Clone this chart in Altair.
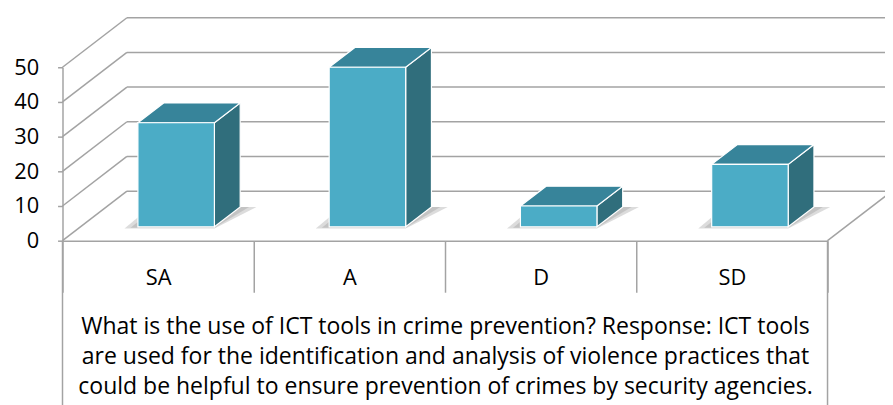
import altair as alt
import pandas as pd

# ---------------- data ----------------
categories = ["SA", "A", "D", "SD"]
values = [30, 46, 6, 18]
y_ticks = [0, 10, 20, 30, 40, 50]
x_title = [
    "What is the use of ICT tools in crime prevention? Response: ICT tools",
    "are used for the identification and analysis of violence practices that",
    "could be helpful to ensure prevention of crimes by security agencies.",
]

# ---------------- style / 3-D projection ----------------
FONT = "Open Sans"
GRID_C = "#a3a3a3"
FRONT_C = "#4bacc6"
TOP_C = "#37849a"
SIDE_C = "#306e7c"
DX = 65 / 193          # depth shift along x (category units)
DY = 50 / 3.5          # depth shift along y (value units)
F1, F2 = 0.28, 0.68    # bar depth (fraction of the floor depth)
BAR_W = 0.4
N = len(categories)
X_END = N + 0.6

bars = pd.DataFrame({"category": categories, "value": values, "idx": list(range(N))})
grid = pd.DataFrame({"tick": y_ticks})
edges = pd.DataFrame({"edge": [0, N]})

xlin = alt.Scale(domain=[0, N], nice=False, zero=False)
ysc = alt.Scale(domain=[0, 50], nice=False)
yaxis = alt.Axis(
    values=y_ticks, title=None, grid=False,
    labelFont=FONT, labelFontSize=22, labelColor="#000000", labelPadding=19,
    tickSize=5, tickColor=GRID_C, tickWidth=1.5,
    domainColor=GRID_C, domainWidth=1.5,
)


def Y(field):
    return alt.Y(field, scale=ysc, axis=yaxis)


XL = f"(datum.idx + {(1 - BAR_W) / 2} + {F1 * DX})"
XR = f"({XL} + {BAR_W})"
Y0 = f"{F1 * DY}"
T = f"(datum.value + {F1 * DY})"
DD = f"{(F2 - F1) * DX}"
DH = f"{(F2 - F1) * DY}"

rule = dict(color=GRID_C, strokeWidth=1.5)

# axes layer (band scale for the category axis, value axis)
axes = alt.Chart(bars).mark_point(opacity=0).encode(
    x=alt.X(
        "category:N", sort=categories,
        scale=alt.Scale(paddingInner=0, paddingOuter=0),
        axis=alt.Axis(
            title=x_title, titleFont=FONT, titleFontSize=23.2, titleFontWeight="normal",
            titleColor="#000000", titleLineHeight=30, titlePadding=23,
            labelFont=FONT, labelFontSize=22, labelColor="#000000", labelAngle=0,
            labelBaseline="middle", labelPadding=-15,
            tickBand="extent", tickSize=52, tickColor=GRID_C, tickWidth=1.5,
            domainColor=GRID_C, domainWidth=1.5, grid=False,
        ),
    ),
    y=Y("value:Q"),
)

# side-wall diagonals
diag = alt.Chart(grid).transform_calculate(
    x0="0", x1=str(DX), y1=f"datum.tick + {DY}"
).mark_rule(**rule).encode(
    x=alt.X("x0:Q", scale=xlin, axis=None), x2="x1:Q",
    y=Y("tick:Q"), y2="y1:Q",
)

# back-wall horizontals
back = alt.Chart(grid).transform_calculate(
    x0=str(DX), x1=str(X_END), yb=f"datum.tick + {DY}"
).mark_rule(**rule).encode(
    x=alt.X("x0:Q", scale=xlin, axis=None), x2="x1:Q",
    y=Y("yb:Q"),
)

# right floor edge
floor_r = alt.Chart(grid).transform_filter("datum.tick == 0").transform_calculate(
    x0=str(N), x1=str(N + DX), y1=str(DY)
).mark_rule(**rule).encode(
    x=alt.X("x0:Q", scale=xlin, axis=None), x2="x1:Q",
    y=Y("tick:Q"), y2="y1:Q",
)

# outer table borders (full height)
borders = alt.Chart(edges).transform_calculate(
    yb="-60", yt="0"
).mark_rule(**rule).encode(
    x=alt.X("edge:Q", scale=xlin, axis=None),
    y=Y("yt:Q"), y2="yb:Q",
)

# soft floor shadows under the bars (two stacked, translucent)
shadow = alt.Chart(bars).transform_calculate(
    k="[0, 1, 2, 3]", s="[1.0, 0.55]"
).transform_flatten(["k"]).transform_flatten(["s"]).transform_calculate(
    ax=(f"datum.k == 0 ? {XL} - 0.07 * datum.s : datum.k == 1 ? {XL} + {DD} - 0.07 * datum.s"
        f" : datum.k == 2 ? {XR} : {XR} + {DD} + 0.085 * datum.s"),
    ay=f"datum.k == 3 ? {Y0} + {DH} : {Y0} - 0.5 * datum.s",
    ay2=f"datum.k == 0 ? {Y0} - 0.5 * datum.s : {Y0} + {DH}",
    grp="datum.category + '_' + datum.s",
).mark_area(color="#8c8c8c", opacity=0.3).encode(
    x=alt.X("ax:Q", scale=xlin, axis=None),
    y=Y("ay:Q"), y2="ay2:Q",
    detail="grp:N",
)

# bar faces
side = alt.Chart(bars).transform_calculate(k="[0, 1]").transform_flatten(["k"]).transform_calculate(
    ax=f"datum.k == 0 ? {XR} : {XR} + {DD}",
    ay=f"{Y0} + datum.k * {DH}",
    ay2=f"{T} + datum.k * {DH}",
).mark_area(color=SIDE_C, stroke="white", strokeWidth=1.2).encode(
    x=alt.X("ax:Q", scale=xlin, axis=None),
    y=Y("ay:Q"), y2="ay2:Q",
    detail="category:N",
)

top = alt.Chart(bars).transform_calculate(k="[0, 1, 2, 3]").transform_flatten(["k"]).transform_calculate(
    ax=f"datum.k == 0 ? {XL} : datum.k == 1 ? {XL} + {DD} : datum.k == 2 ? {XR} : {XR} + {DD}",
    ay=f"datum.k == 3 ? {T} + {DH} : {T}",
    ay2=f"datum.k == 0 ? {T} : {T} + {DH}",
).mark_area(color=TOP_C, stroke="white", strokeWidth=1.2).encode(
    x=alt.X("ax:Q", scale=xlin, axis=None),
    y=Y("ay:Q"), y2="ay2:Q",
    detail="category:N",
)

front = alt.Chart(bars).transform_calculate(
    fx=XL, fx2=XR, fy=Y0, fy2=T
).mark_rect(color=FRONT_C, stroke="white", strokeWidth=1.2).encode(
    x=alt.X("fx:Q", scale=xlin, axis=None), x2="fx2:Q",
    y=Y("fy:Q"), y2="fy2:Q",
)

chart = alt.layer(axes, diag, back, floor_r, borders, shadow, side, top, front).resolve_scale(
    x="independent"
).properties(
    width=772, height=175,
    autosize=alt.AutoSizeParams(type="none"),
    padding={"left": 55, "top": 58, "right": 58, "bottom": 164},
    background="white",
).configure_view(stroke=None)

chart.save("out.html", embed_options={"renderer": "svg", "actions": False})
